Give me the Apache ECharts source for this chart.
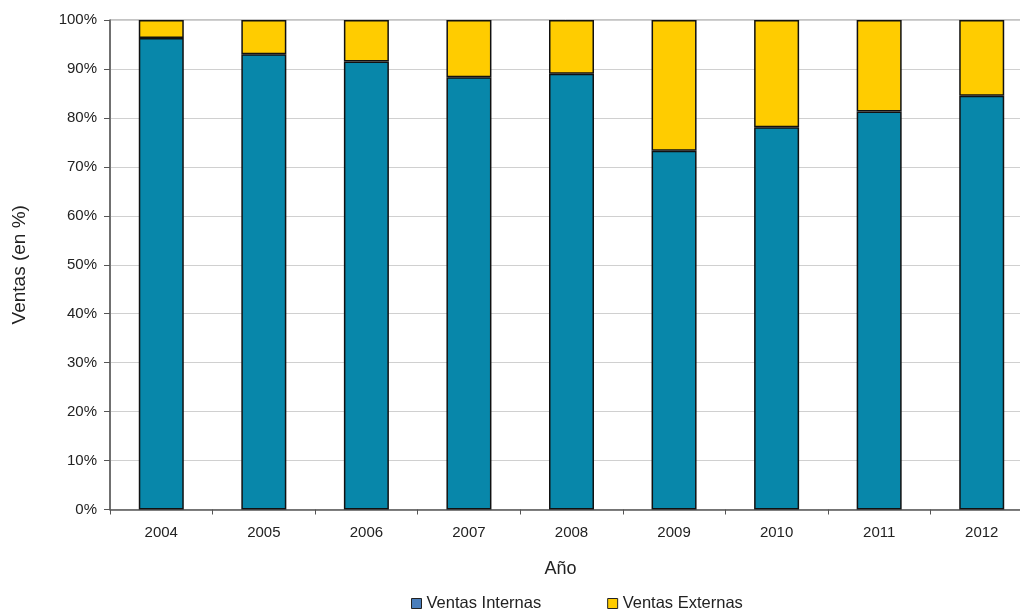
<!DOCTYPE html>
<html>
<head>
<meta charset="utf-8">
<script src="https://cdn.jsdelivr.net/npm/echarts@6/dist/echarts.min.js"></script>
<style>html,body{margin:0;padding:0;background:#fff;}#c{width:1020px;height:609px;}</style>
</head>
<body>
<div id="c"></div>
<script>
var categories = ['2004','2005','2006','2007','2008','2009','2010','2011','2012'];
var internas = [96.3, 93.0, 91.5, 88.3, 89.0, 73.3, 78.1, 81.3, 84.5];
var externas = [3.7, 7.0, 8.5, 11.7, 11.0, 26.7, 21.9, 18.7, 15.5];
var seriesNames = ['Ventas Internas', 'Ventas Externas'];

var font = 'Liberation Sans, Arial, sans-serif';
var chart = echarts.init(document.getElementById('c'), null, {renderer:'canvas'});
chart.setOption({
  animation: false,
  backgroundColor: '#fff',
  textStyle: {fontFamily: font},
  grid: {left: 110, top: 20, width: 923, height: 489.5, outerBoundsMode: 'none', containLabel: false,
         show: true, borderColor: '#888', borderWidth: 1},
  legend: {
    top: 590,
    left: 406,
    itemGap: 66,
    itemWidth: 10, itemHeight: 10,
    textStyle: {fontFamily: font, fontSize: 16.5, color: '#222'},
    data: [
      {name: seriesNames[0], icon: 'rect', itemStyle: {color: '#4A7EBB', borderColor: '#222', borderWidth: 1}},
      {name: seriesNames[1], icon: 'rect', itemStyle: {color: '#FFCC00', borderColor: '#222', borderWidth: 1}}
    ]
  },
  xAxis: {
    type: 'category',
    data: categories,
    name: 'Año',
    nameLocation: 'middle',
    nameGap: 51,
    nameTextStyle: {fontFamily: font, fontSize: 18, color: '#222', padding: [0, 22, 0, 0]},
    axisLine: {lineStyle: {color: '#555', width: 1.5}},
    axisTick: {show: true, length: 5, lineStyle: {color: '#555'}},
    axisLabel: {fontFamily: font, fontSize: 15, color: '#222', margin: 16}
  },
  yAxis: {
    type: 'value',
    min: 0, max: 100, interval: 10,
    name: 'Ventas (en %)',
    nameLocation: 'middle',
    nameGap: 81,
    nameTextStyle: {fontFamily: font, fontSize: 19, color: '#222'},
    axisLine: {show: true, lineStyle: {color: '#555', width: 1.5}},
    axisTick: {show: true, length: 6, lineStyle: {color: '#555'}},
    axisLabel: {fontFamily: font, fontSize: 15, color: '#222', margin: 13, formatter: '{value}%'},
    splitLine: {lineStyle: {color: '#d0d0d0', width: 1}}
  },
  series: [
    {name: seriesNames[0], type: 'bar', stack: 's', data: internas, barWidth: 45,
     itemStyle: {color: '#0887AA', borderColor: '#111', borderWidth: 1.5}},
    {name: seriesNames[1], type: 'bar', stack: 's', data: externas, barWidth: 45,
     itemStyle: {color: '#FFCC00', borderColor: '#111', borderWidth: 1.5}}
  ]
});
</script>
</body>
</html>
